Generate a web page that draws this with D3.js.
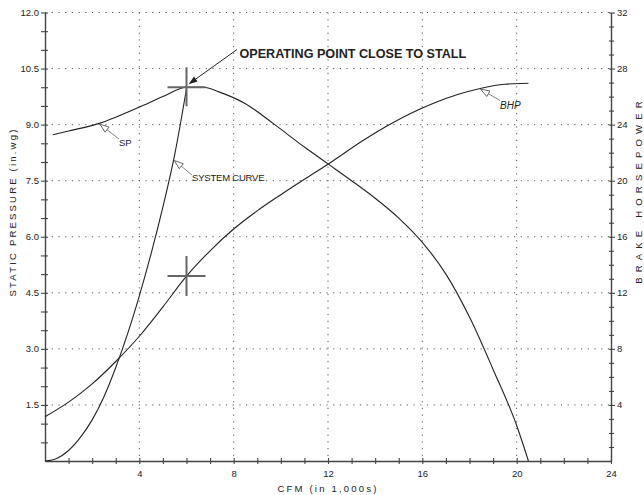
<!DOCTYPE html>
<html><head><meta charset="utf-8">
<script src="https://cdn.jsdelivr.net/npm/d3@7"></script>
<style>
body{margin:0;background:#fff;}
text{font-family:"Liberation Sans",Arial,Helvetica,sans-serif;fill:#222;}
</style></head>
<body><svg id="c" width="644" height="495"></svg>
<script>
// ---- data ----
const spX = [0.33, 1, 2.33, 3, 4, 5, 6, 6.7, 7.4, 8.5, 9.7, 11, 12, 13, 14, 15, 16, 17, 18, 19, 20, 20.5];
const spY = [8.73, 8.83, 9.04, 9.2, 9.47, 9.75, 10.0, 10.0, 9.87, 9.56, 9.02, 8.4, 7.95, 7.5, 7.03, 6.5, 5.85, 5.0, 3.85, 2.45, 0.95, 0];
const bhpX = [0, 1, 2, 3, 4, 5, 6, 7, 8, 9, 10, 11, 12, 13.5, 14.5, 15.5, 16.5, 17.5, 18.5, 19.5, 20.5];
const bhpY = [3.16, 4.2, 5.5, 7.1, 8.9, 11.0, 13.19, 15.0, 16.55, 17.85, 19.0, 20.1, 21.17, 22.88, 23.9, 24.8, 25.55, 26.15, 26.6, 26.88, 26.95];
const sysX = [0, 0.5, 1, 1.5, 2, 2.5, 3, 3.5, 4, 4.5, 5, 5.5, 6.01];
const sysY = [0, 0.07, 0.28, 0.63, 1.1, 1.72, 2.5, 3.4, 4.42, 5.55, 6.8, 8.2, 10.0];
const xTicks = [4, 8, 12, 16, 20, 24];
const spTicks = [1.5, 3.0, 4.5, 6.0, 7.5, 9.0, 10.5, 12.0];
const hpTicks = [4, 8, 12, 16, 20, 24, 28, 32];
const opPoint = {x: 6, sp: 10.0};
const bhpPoint = {x: 6, hp: 13.2};
const labels = {title: "OPERATING POINT CLOSE TO STALL", sp: "SP", sys: "SYSTEM CURVE", bhp: "BHP",
  xTitle: "CFM (in 1,000s)", yTitle: "STATIC PRESSURE (in.wg)", y2Title: "BRAKE HORSEPOWER"};

// ---- layout ----
const W = 644, H = 495;
const m = {l: 45, r: 33, t: 12.5, b: 34};
const svg = d3.select("#c");
const x = d3.scaleLinear().domain([0, 24]).range([m.l, W - m.r]);
const y = d3.scaleLinear().domain([0, 12]).range([H - m.b, m.t]);
const y2 = d3.scaleLinear().domain([0, 32]).range([H - m.b, m.t]);

// grid
const g = svg.append("g").attr("stroke", "#555").attr("stroke-width", 1).attr("stroke-dasharray", "1.2,5.5");
g.selectAll("line.v").data(xTicks.slice(0, -1)).join("line")
  .attr("x1", d => x(d)).attr("x2", d => x(d)).attr("y1", y(12)).attr("y2", y(0));
g.selectAll("line.h").data(spTicks).join("line")
  .attr("y1", d => y(d)).attr("y2", d => y(d)).attr("x1", x(0)).attr("x2", x(24));

// axes
function styleAxis(sel) {
  sel.select(".domain").attr("stroke", "#444").attr("stroke-width", 1.4);
  sel.selectAll(".tick line").attr("stroke", "#444").attr("stroke-width", 1.1);
}
const left = svg.append("g").attr("transform", `translate(${m.l},0)`)
  .call(d3.axisLeft(y).tickValues(d3.range(0.5, 12.01, 0.5)).tickSize(4).tickSizeOuter(0).tickFormat(() => ""));
left.selectAll(".tick line").attr("x2", -4).attr("x1", 3);
styleAxis(left);
const leftLab = svg.append("g").attr("transform", `translate(${m.l},0)`)
  .call(d3.axisLeft(y).tickValues(spTicks).tickSize(0).tickPadding(6).tickFormat(d3.format(".1f")));
leftLab.select(".domain").remove();
leftLab.selectAll("text").attr("font-size", 9.5).attr("fill", "#222");

const bottom = svg.append("g").attr("transform", `translate(0,${y(0)})`)
  .call(d3.axisBottom(x).tickValues(d3.range(1, 24.01, 1)).tickSize(3).tickSizeOuter(0).tickFormat(() => ""));
bottom.selectAll(".tick line").attr("y1", -3).attr("y2", 3);
styleAxis(bottom);
const botLab = svg.append("g").attr("transform", `translate(0,${y(0)})`)
  .call(d3.axisBottom(x).tickValues(xTicks).tickSize(0).tickPadding(9).tickFormat(d3.format("d")));
botLab.select(".domain").remove();
botLab.selectAll("text").attr("font-size", 9.5).attr("fill", "#222");

const right = svg.append("g").attr("transform", `translate(${W - m.r},0)`)
  .call(d3.axisRight(y2).tickValues(d3.range(1, 32.01, 1)).tickSize(3).tickSizeOuter(0).tickFormat(() => ""));
right.selectAll(".tick line").attr("x1", -2).attr("x2", d => d % 4 === 0 ? 4 : 3);
styleAxis(right);
const rightLab = svg.append("g").attr("transform", `translate(${W - m.r},0)`)
  .call(d3.axisRight(y2).tickValues(hpTicks).tickSize(0).tickPadding(6).tickFormat(d3.format("d")));
rightLab.select(".domain").remove();
rightLab.selectAll("text").attr("font-size", 9.5).attr("fill", "#222");

// axis titles
svg.append("text").attr("x", (x(0) + x(24)) / 2).attr("y", 492).attr("text-anchor", "middle")
  .attr("font-size", 9.5).attr("letter-spacing", 2.2).text(labels.xTitle);
svg.append("text").attr("transform", `translate(16,${212}) rotate(-90)`).attr("text-anchor", "middle")
  .attr("font-size", 9.5).attr("letter-spacing", 2.2).text(labels.yTitle);
svg.append("text").attr("transform", `translate(642,${190}) rotate(-90)`).attr("text-anchor", "middle")
  .attr("font-size", 9.5).attr("letter-spacing", 5.2).text(labels.y2Title);

// curves
const lineSP = d3.line().x(d => x(d[0])).y(d => y(d[1])).curve(d3.curveMonotoneX);
const lineHP = d3.line().x(d => x(d[0])).y(d => y2(d[1])).curve(d3.curveMonotoneX);
const curves = svg.append("g").attr("fill", "none").attr("stroke", "#222").attr("stroke-width", 1.1);
curves.append("path").attr("d", lineSP(d3.zip(spX, spY)));
curves.append("path").attr("d", lineHP(d3.zip(bhpX, bhpY)));
curves.append("path").attr("d", lineSP(d3.zip(sysX, sysY)));

// crosses
function cross(cx, cy, hw, vh, vdown) {
  const c = svg.append("g").attr("stroke", "#666").attr("stroke-width", 2);
  c.append("line").attr("x1", cx - hw).attr("x2", cx + hw).attr("y1", cy).attr("y2", cy);
  c.append("line").attr("x1", cx).attr("x2", cx).attr("y1", cy - vh).attr("y2", cy + vdown);
}
cross(x(opPoint.x), y(opPoint.sp), 19, 20, 19);
cross(x(bhpPoint.x), y2(bhpPoint.hp), 19, 20, 20);

// annotation leaders with hollow arrowheads
function leader(x1, y1, tx, ty) {
  const ang = Math.atan2(ty - y1, tx - x1);
  const L = 9, w = 3.2;
  const bx = tx - L * Math.cos(ang), by = ty - L * Math.sin(ang);
  svg.append("line").attr("x1", x1).attr("y1", y1).attr("x2", bx).attr("y2", by)
    .attr("stroke", "#777").attr("stroke-width", 0.9);
  const px = -Math.sin(ang) * w, py = Math.cos(ang) * w;
  svg.append("path").attr("d", `M${tx},${ty}L${bx + px},${by + py}L${bx - px},${by - py}Z`)
    .attr("fill", "#fff").attr("stroke", "#555").attr("stroke-width", 0.9);
}
// SP
leader(119, 139, x(2.33), y(9.04) + 1);
svg.append("text").attr("x", 119).attr("y", 145.5).attr("font-size", 9.5).text(labels.sp);
// system curve
leader(192, 175, x(5.44) + 1, y(8.04));
svg.append("text").attr("x", 192).attr("y", 180.5).attr("font-size", 9.5).attr("letter-spacing", -0.2).text(labels.sys);
// BHP
leader(500, 100.5, x(18.45) + 0.5, y2(26.6) + 1);
svg.append("text").attr("x", 500).attr("y", 108.5).attr("font-size", 10).attr("font-style", "italic").text(labels.bhp);

// title arrow
const tipX = x(opPoint.x) + 2, tipY = y(opPoint.sp) - 3;
const sx = 237, sy = 49.5;
const ang = Math.atan2(tipY - sy, tipX - sx);
const AL = 9, AW = 3;
const abx = tipX - AL * Math.cos(ang), aby = tipY - AL * Math.sin(ang);
svg.append("line").attr("x1", sx).attr("y1", sy).attr("x2", abx).attr("y2", aby).attr("stroke", "#222").attr("stroke-width", 1);
svg.append("path").attr("d", `M${tipX},${tipY}L${abx - Math.sin(ang) * AW},${aby + Math.cos(ang) * AW}L${abx + Math.sin(ang) * AW},${aby - Math.cos(ang) * AW}Z`).attr("fill", "#222");
svg.append("text").attr("x", 239.5).attr("y", 57.5).attr("font-size", 12.6).attr("font-weight", "bold").attr("fill", "#111").text(labels.title);
</script></body></html>
